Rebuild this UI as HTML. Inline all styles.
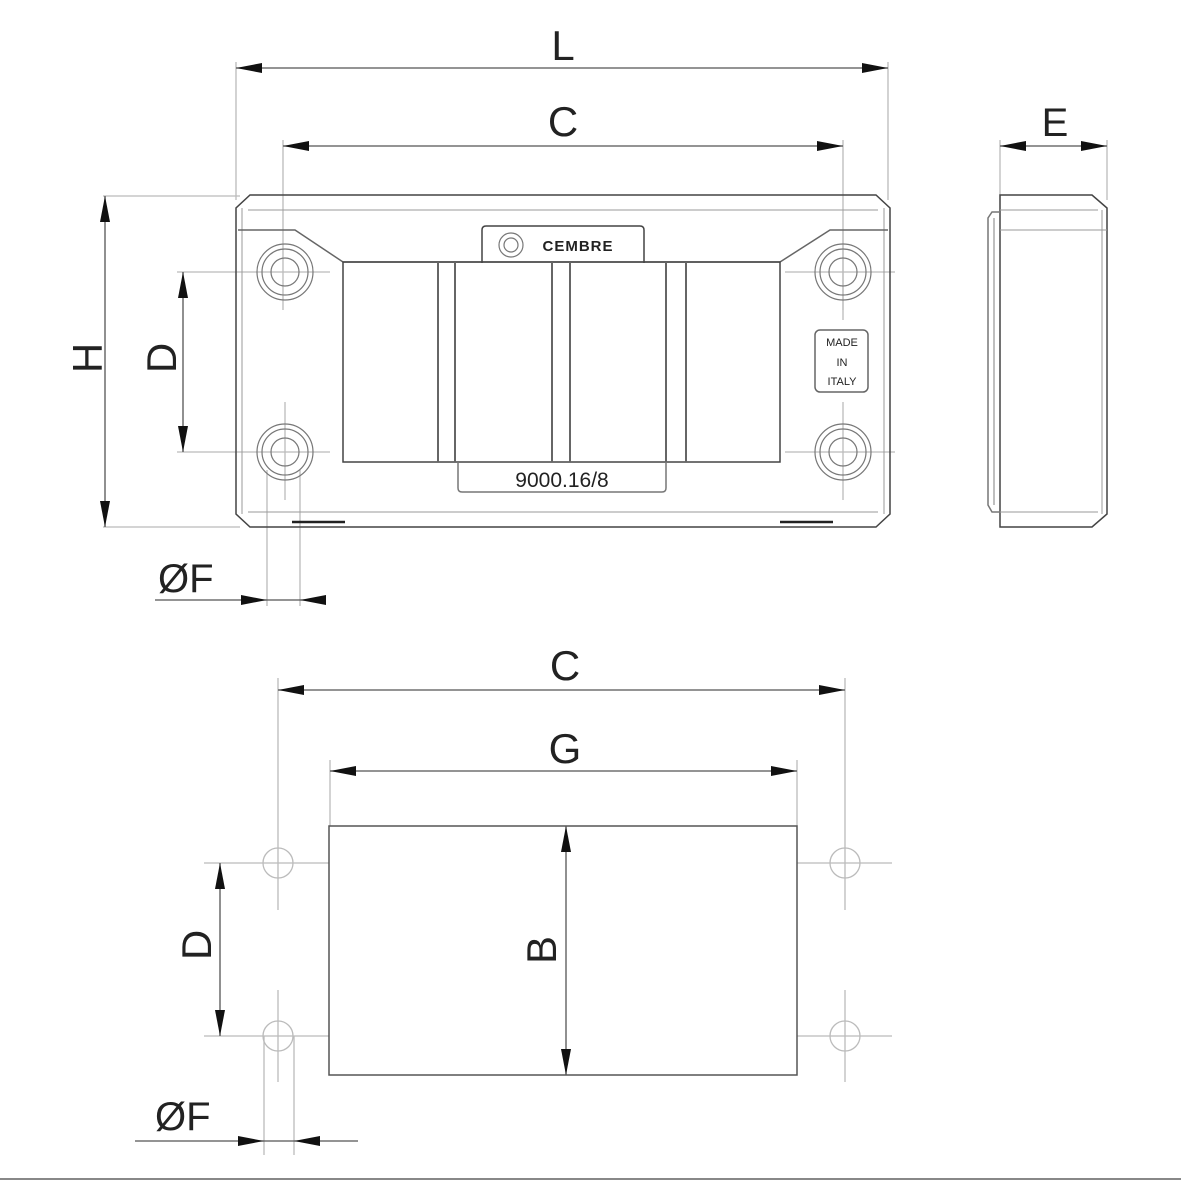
<!DOCTYPE html>
<html><head><meta charset="utf-8"><style>
html,body{margin:0;padding:0;background:#fff}
svg{display:block}
text{font-family:"Liberation Sans","DejaVu Sans",sans-serif;fill:#222}
</style></head><body>
<svg width="1181" height="1181" viewBox="0 0 1181 1181" xmlns="http://www.w3.org/2000/svg">
<defs>
<marker id="a" viewBox="0 0 26 10" refX="26" refY="5" markerWidth="26" markerHeight="10" markerUnits="userSpaceOnUse" orient="auto-start-reverse"><path d="M0,0 L26,5 L0,10 z" fill="#111"/></marker>
</defs>
<g fill="none" stroke="#bbb" stroke-width="1.3">
<!-- extension lines top -->
<line x1="236" y1="62" x2="236" y2="200"/>
<line x1="888" y1="62" x2="888" y2="200"/>
<line x1="283" y1="140" x2="283" y2="310"/>
<line x1="843" y1="140" x2="843" y2="310"/>
<line x1="103" y1="196" x2="240" y2="196"/>
<line x1="103" y1="527" x2="240" y2="527"/>
<line x1="177" y1="272" x2="330" y2="272"/>
<line x1="177" y1="452" x2="330" y2="452"/>
<line x1="785" y1="272" x2="895" y2="272"/>
<line x1="785" y1="452" x2="895" y2="452"/>
<line x1="285" y1="402" x2="285" y2="500"/>
<line x1="843" y1="402" x2="843" y2="500"/>
<line x1="843" y1="230" x2="843" y2="320"/>
<line x1="267" y1="470" x2="267" y2="606"/>
<line x1="300" y1="470" x2="300" y2="606"/>
<line x1="1000" y1="140" x2="1000" y2="200"/>
<line x1="1107" y1="140" x2="1107" y2="200"/>
<!-- bottom view ext -->
<line x1="278" y1="678" x2="278" y2="910"/>
<line x1="845" y1="678" x2="845" y2="910"/>
<line x1="330" y1="760" x2="330" y2="826"/>
<line x1="797" y1="760" x2="797" y2="826"/>
<line x1="204" y1="863" x2="329" y2="863"/>
<line x1="797" y1="863" x2="892" y2="863"/>
<line x1="204" y1="1036" x2="329" y2="1036"/>
<line x1="797" y1="1036" x2="892" y2="1036"/>
<line x1="278" y1="990" x2="278" y2="1082"/>
<line x1="845" y1="990" x2="845" y2="1082"/>
<line x1="264" y1="1036" x2="264" y2="1155"/>
<line x1="294" y1="1036" x2="294" y2="1155"/>
<circle cx="278" cy="863" r="15"/><circle cx="845" cy="863" r="15"/>
<circle cx="278" cy="1036" r="15"/><circle cx="845" cy="1036" r="15"/>
</g>
<!-- dimension lines -->
<g stroke="#555" stroke-width="1.3" fill="none">
<line x1="236" y1="68" x2="888" y2="68" marker-start="url(#a)" marker-end="url(#a)"/>
<line x1="283" y1="146" x2="843" y2="146" marker-start="url(#a)" marker-end="url(#a)"/>
<line x1="105" y1="196" x2="105" y2="527" marker-start="url(#a)" marker-end="url(#a)"/>
<line x1="183" y1="272" x2="183" y2="452" marker-start="url(#a)" marker-end="url(#a)"/>
<line x1="1000" y1="146" x2="1107" y2="146" marker-start="url(#a)" marker-end="url(#a)"/>
<line x1="155" y1="600" x2="267" y2="600" marker-end="url(#a)"/>
<line x1="267" y1="600" x2="300" y2="600"/>
<line x1="325" y1="600" x2="300" y2="600" marker-end="url(#a)"/>
<line x1="278" y1="690" x2="845" y2="690" marker-start="url(#a)" marker-end="url(#a)"/>
<line x1="330" y1="771" x2="797" y2="771" marker-start="url(#a)" marker-end="url(#a)"/>
<line x1="566" y1="826" x2="566" y2="1075" marker-start="url(#a)" marker-end="url(#a)"/>
<line x1="220" y1="863" x2="220" y2="1036" marker-start="url(#a)" marker-end="url(#a)"/>
<line x1="135" y1="1141" x2="264" y2="1141" marker-end="url(#a)"/>
<line x1="264" y1="1141" x2="294" y2="1141"/>
<line x1="358" y1="1141" x2="294" y2="1141" marker-end="url(#a)"/>
</g>
<!-- front view -->
<g fill="none" stroke="#444" stroke-width="1.5">
<path d="M250,195 L876,195 L890,208 L890,514 L876,527 L250,527 L236,514 L236,208 Z"/>
<path d="M248,210 L878,210 M248,512 L878,512 M242,208 L242,514 M884,208 L884,514" stroke="#999" stroke-width="1"/>
<path d="M238,230 L295,230 L343,262 L780,262 L830,230 L888,230" stroke="#666"/>
<rect x="343" y="262" width="437" height="200"/>
<path d="M438,262V462 M455,262V462 M552,262V462 M570,262V462 M666,262V462 M686,262V462" stroke-width="2" stroke="#666"/>
<path d="M482,263 V230 Q482,226 486,226 H640 Q644,226 644,230 V263"/>
<path d="M458,462 V488 Q458,492 462,492 H662 Q666,492 666,488 V462" stroke="#777"/>
<rect x="815" y="330" width="53" height="62" rx="5" stroke="#666"/>
<path d="M292,522 H345 M780,522 H833" stroke="#222" stroke-width="2.5"/>
<g stroke="#777" stroke-width="1.2">
<circle cx="285" cy="272" r="28"/><circle cx="285" cy="272" r="23"/><circle cx="285" cy="272" r="14"/>
<circle cx="285" cy="452" r="28"/><circle cx="285" cy="452" r="23"/><circle cx="285" cy="452" r="14"/>
<circle cx="843" cy="272" r="28"/><circle cx="843" cy="272" r="23"/><circle cx="843" cy="272" r="14"/>
<circle cx="843" cy="452" r="28"/><circle cx="843" cy="452" r="23"/><circle cx="843" cy="452" r="14"/>
<circle cx="511" cy="245" r="12"/><circle cx="511" cy="245" r="7"/>
</g>
<!-- side view -->
<path d="M1000,195 H1092 L1107,208 V514 L1092,527 H1000 Z"/>
<path d="M1000,230 H1107 M1000,210 H1098 M1000,512 H1098 M1102,210 V514" stroke="#999" stroke-width="1"/>
<path d="M1000,212 H992 L988,218 V505 L992,512 H1000" stroke="#777"/>
<path d="M994,218 V505" stroke="#aaa"/>
<!-- bottom rect -->
<rect x="329" y="826" width="468" height="249" stroke="#555"/>
</g>
<line x1="0" y1="1179" x2="1181" y2="1179" stroke="#888" stroke-width="2"/>
<!-- texts -->
<text x="563" y="60" font-size="42" text-anchor="middle">L</text>
<text x="563" y="136" font-size="42" text-anchor="middle">C</text>
<text x="1055" y="136" font-size="40" text-anchor="middle">E</text>
<text transform="translate(102,358) rotate(-90)" font-size="42" text-anchor="middle">H</text>
<text transform="translate(176,358) rotate(-90)" font-size="42" text-anchor="middle">D</text>
<text x="158" y="592" font-size="40">ØF</text>
<text x="565" y="680" font-size="42" text-anchor="middle">C</text>
<text x="565" y="763" font-size="42" text-anchor="middle">G</text>
<text transform="translate(556,950) rotate(-90)" font-size="42" text-anchor="middle">B</text>
<text transform="translate(211,945) rotate(-90)" font-size="42" text-anchor="middle">D</text>
<text x="155" y="1130" font-size="40">ØF</text>
<text x="562" y="487" font-size="21" text-anchor="middle" fill="#555">9000.16/8</text>
<text x="578" y="251" font-size="15" text-anchor="middle" font-weight="bold" fill="#999" letter-spacing="1">CEMBRE</text>
<g font-size="11" text-anchor="middle" fill="#444"><text x="842" y="346">MADE</text><text x="842" y="366">IN</text><text x="842" y="385">ITALY</text></g>
</svg>
</body></html>
